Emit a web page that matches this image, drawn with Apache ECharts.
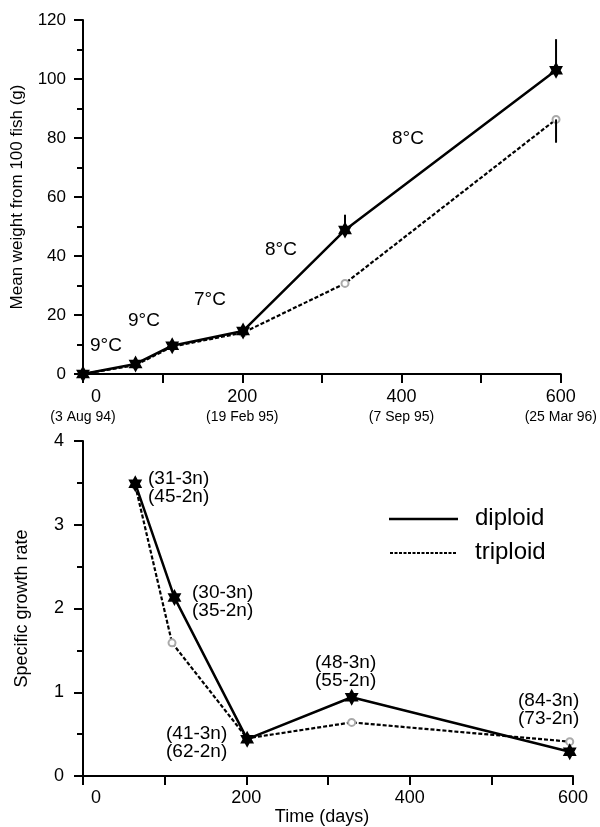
<!DOCTYPE html>
<html>
<head>
<meta charset="utf-8">
<script src="https://cdn.jsdelivr.net/npm/echarts@6/dist/echarts.min.js"></script>
<style>
html,body{margin:0;padding:0;background:#fff;}
#chart{width:600px;height:827px;}
</style>
</head>
<body>
<div id="chart"></div>
<script>
// ---- Data ----
// Top panel: mean weight (g)
var weightDays = [0, 66, 112, 201, 329, 594];
var weightDiploid = [0, 3.4, 9.6, 14.6, 48.8, 103];
var weightTriploid = [0, 3.0, 9.3, 14.0, 30.7, 86.3];
// one-sided error bars [day, low, high]
var errDiploid = [[329, 48.8, 54.0], [594, 103, 113.5]];
var errTriploid = [[594, 78.4, 86.3]];
var tempLabels = ['9°C', '9°C', '7°C', '8°C', '8°C'];
var dateLabels = {0: '(3 Aug 94)', 200: '(19 Feb 95)', 400: '(7 Sep 95)', 600: '(25 Mar 96)'};

// Bottom panel: specific growth rate
var sgrDaysDiploid = [64, 112, 201, 329, 596];
var sgrDaysTriploid = [64, 109, 201, 329, 596];
var sgrDiploid = [3.49, 2.13, 0.44, 0.94, 0.29];
var sgrTriploid = [3.47, 1.59, 0.45, 0.64, 0.41];
var sampleLabels = ['(31-3n)\n(45-2n)', '(30-3n)\n(35-2n)', '(41-3n)\n(62-2n)', '(48-3n)\n(55-2n)', '(84-3n)\n(73-2n)'];

function pairs(xs, ys){ return xs.map(function(x,i){ return [x, ys[i]]; }); }

var FONT = 'Liberation Sans, Arial, sans-serif';
var star = 'path://M0,-10L2.887,-5L8.66,-5L5.774,0L8.66,5L2.887,5L0,10L-2.887,5L-8.66,5L-5.774,0L-8.66,-5L-2.887,-5Z';

function xAxisBase(gridIndex, withDates){
  return {
    type: 'value', gridIndex: gridIndex, min: 0, max: 600, interval: 200,
    axisLine: {show: true, onZero: false, lineStyle: {color: '#000', width: 2}},
    axisTick: {show: true, inside: false, length: 9, lineStyle: {color: '#000', width: 2}},
    minorTick: {show: true, splitNumber: 2, length: 9, lineStyle: {color: '#000', width: 2}},
    splitLine: {show: false},
    axisLabel: {
      margin: withDates ? 13 : 12,
      fontFamily: FONT, color: '#000',
      formatter: function(v){
        var n = v === 0 ? '{z|0}' : '{n|' + v + '}';
        return withDates ? n + '\n{d|' + dateLabels[v] + '}' : n;
      },
      rich: {
        n: {fontSize: 18, lineHeight: 20, fontFamily: FONT, color: '#000'},
        z: {fontSize: 18, lineHeight: 20, fontFamily: FONT, color: '#000', padding: [0, 0, 0, 26]},
        d: {fontSize: 14, lineHeight: 20, fontFamily: FONT, color: '#000', padding: [0, 0, 0, 0]}
      }
    }
  };
}

var graphics = [];
var tempPos = [[90, 347], [128, 322], [194, 301], [265, 251], [392, 140]];
tempLabels.forEach(function(t, i){
  graphics.push({type: 'text', left: tempPos[i][0], top: tempPos[i][1] - 11,
    style: {text: t, fontSize: 19, fontFamily: FONT, fill: '#000'}});
});
var samplePos = [[148, 488], [192, 602], [166, 743], [315, 672], [518, 710]];
sampleLabels.forEach(function(t, i){
  graphics.push({type: 'text', left: samplePos[i][0], top: samplePos[i][1] - 19,
    style: {text: t, fontSize: 19, lineHeight: 18, fontFamily: FONT, fill: '#000'}});
});
// legend
graphics.push({type: 'line', shape: {x1: 389, y1: 519, x2: 458, y2: 519}, style: {stroke: '#000', lineWidth: 2.5}});
graphics.push({type: 'line', shape: {x1: 390, y1: 553, x2: 457, y2: 553}, style: {stroke: '#000', lineWidth: 2, lineDash: [3, 1.5]}});
graphics.push({type: 'text', left: 475, top: 506, style: {text: 'diploid', fontSize: 24, fontFamily: FONT, fill: '#000'}});
graphics.push({type: 'text', left: 475, top: 540, style: {text: 'triploid', fontSize: 24, fontFamily: FONT, fill: '#000'}});

function errRender(params, api){
  var p1 = api.coord([api.value(0), api.value(1)]);
  var p2 = api.coord([api.value(0), api.value(2)]);
  return {type: 'line', shape: {x1: p1[0], y1: p1[1], x2: p2[0], y2: p2[1]},
    style: {stroke: '#000', lineWidth: 2}};
}

var option = {
  backgroundColor: '#fff',
  animation: false,
  grid: [
    {left: 83, top: 20, width: 488, height: 354},
    {left: 83, top: 441, width: 490, height: 335}
  ],
  xAxis: [
    xAxisBase(0, true),
    Object.assign(xAxisBase(1, false), {
      name: 'Time (days)', nameLocation: 'middle', nameGap: 24,
      nameTextStyle: {fontSize: 18, fontFamily: FONT, color: '#000', padding: [0, 12, 0, 0]}
    })
  ],
  yAxis: [
    {
      type: 'value', gridIndex: 0, min: 0, max: 120, interval: 20,
      name: 'Mean weight from 100 fish (g)', nameLocation: 'middle', nameGap: 57,
      nameTextStyle: {fontSize: 17, fontFamily: FONT, color: '#000'},
      axisLine: {show: true, onZero: false, lineStyle: {color: '#000', width: 2}},
      axisTick: {show: true, length: 9, lineStyle: {color: '#000', width: 2}},
      minorTick: {show: true, splitNumber: 2, length: 6, lineStyle: {color: '#000', width: 2}},
      splitLine: {show: false},
      axisLabel: {fontSize: 17, fontFamily: FONT, color: '#000', margin: 17}
    },
    {
      type: 'value', gridIndex: 1, min: 0, max: 4, interval: 1,
      name: 'Specific growth rate', nameLocation: 'middle', nameGap: 52,
      nameTextStyle: {fontSize: 18, fontFamily: FONT, color: '#000'},
      axisLine: {show: true, onZero: false, lineStyle: {color: '#000', width: 2}},
      axisTick: {show: true, length: 9, lineStyle: {color: '#000', width: 2}},
      minorTick: {show: true, splitNumber: 2, length: 6, lineStyle: {color: '#000', width: 2}},
      splitLine: {show: false},
      axisLabel: {fontSize: 18, fontFamily: FONT, color: '#000', margin: 19}
    }
  ],
  series: [
    {
      name: 'triploid', type: 'line', xAxisIndex: 0, yAxisIndex: 0,
      data: pairs(weightDays, weightTriploid),
      symbol: 'emptyCircle', symbolSize: 7,
      itemStyle: {color: '#aaa', borderColor: '#aaa', borderWidth: 1},
      lineStyle: {color: '#000', width: 2.2, type: [4, 2]}, z: 2
    },
    {
      name: 'diploid', type: 'line', xAxisIndex: 0, yAxisIndex: 0,
      data: pairs(weightDays, weightDiploid),
      symbol: star, symbolSize: [16, 17], symbolKeepAspect: true,
      itemStyle: {color: '#000'},
      lineStyle: {color: '#000', width: 2.5}, z: 3
    },
    {
      type: 'custom', xAxisIndex: 0, yAxisIndex: 0, data: errDiploid,
      encode: {x: 0, y: [1, 2]}, renderItem: errRender, z: 4
    },
    {
      type: 'custom', xAxisIndex: 0, yAxisIndex: 0, data: errTriploid,
      encode: {x: 0, y: [1, 2]}, renderItem: errRender, z: 4
    },
    {
      name: 'triploid', type: 'line', xAxisIndex: 1, yAxisIndex: 1,
      data: pairs(sgrDaysTriploid, sgrTriploid),
      symbol: 'emptyCircle', symbolSize: 7,
      itemStyle: {color: '#aaa', borderColor: '#aaa', borderWidth: 1},
      lineStyle: {color: '#000', width: 2.2, type: [4, 2]}, z: 2
    },
    {
      name: 'diploid', type: 'line', xAxisIndex: 1, yAxisIndex: 1,
      data: pairs(sgrDaysDiploid, sgrDiploid),
      symbol: star, symbolSize: [16, 17], symbolKeepAspect: true,
      itemStyle: {color: '#000'},
      lineStyle: {color: '#000', width: 2.5}, z: 3
    }
  ],
  graphic: graphics
};

var chart = echarts.init(document.getElementById('chart'), null, {renderer: 'canvas'});
chart.setOption(option);
</script>
</body>
</html>
